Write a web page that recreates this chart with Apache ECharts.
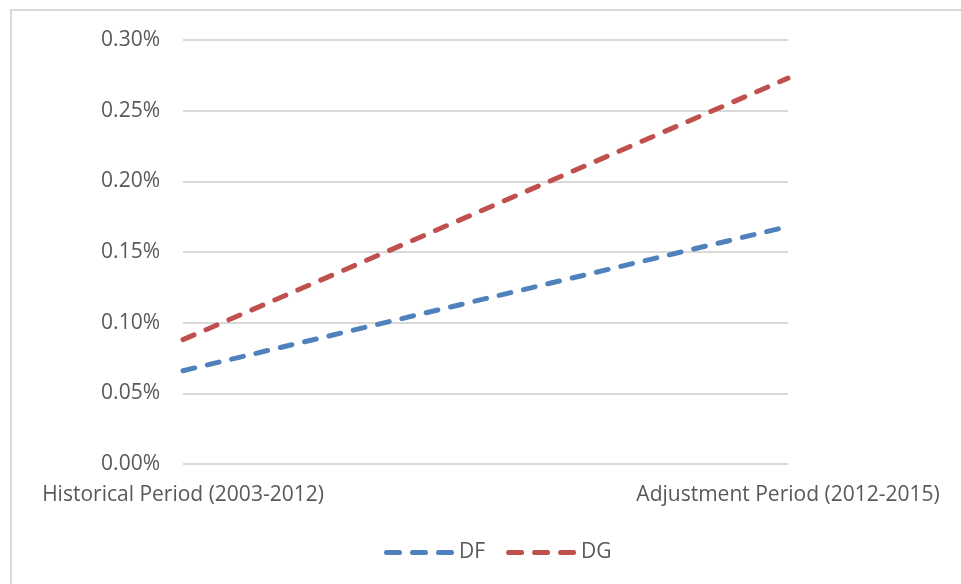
<!DOCTYPE html>
<html>
<head>
<meta charset="utf-8">
<script src="https://cdn.jsdelivr.net/npm/echarts@6/dist/echarts.min.js"></script>
<style>html,body{margin:0;padding:0;background:#fff;}#c{width:961px;height:584px;}</style>
</head>
<body>
<div id="c"></div>
<script>
const categories = ['Historical Period (2003-2012)', 'Adjustment Period (2012-2015)'];
const dfValues = [0.066, 0.168];
const dgValues = [0.088, 0.273];
const yTicks = { min: 0, max: 0.3, interval: 0.05 };

const chart = echarts.init(document.getElementById('c'));
const font = 'Open Sans';
const dashIcon = 'path://M2.5,0h13a2.5,2.5 0 0 1 0,5h-13a2.5,2.5 0 0 1 0,-5z' +
  'M28.5,0h13a2.5,2.5 0 0 1 0,5h-13a2.5,2.5 0 0 1 0,-5z' +
  'M54.5,0h13a2.5,2.5 0 0 1 0,5h-13a2.5,2.5 0 0 1 0,-5z';
chart.setOption({
  animation: false,
  graphic: [{ type: 'rect', shape: { x: 11, y: 10, width: 1200, height: 1200 }, style: { fill: 'none', stroke: '#d9d9d9', lineWidth: 2 }, silent: true }],
  grid: { left: 183, right: 173, top: 40, bottom: 120 },
  xAxis: {
    type: 'category', data: categories, boundaryGap: false,
    axisLine: { show: false }, axisTick: { show: false },
    axisLabel: { color: '#595959', fontSize: 21, fontFamily: font, margin: 21, interval: 0 }
  },
  yAxis: {
    type: 'value', min: yTicks.min, max: yTicks.max, interval: yTicks.interval,
    axisLine: { show: false }, axisTick: { show: false },
    splitLine: { lineStyle: { color: '#d9d9d9', width: 2 } },
    axisLabel: { color: '#595959', fontSize: 21, fontFamily: font, margin: 23, formatter: v => v.toFixed(2) + '%' }
  },
  legend: {
    left: 379, top: 537, itemWidth: 70, itemHeight: 5, itemGap: 21, itemTextGap: 8,
    icon: dashIcon,
    textStyle: { color: '#595959', fontSize: 21, fontFamily: font },
    data: ['DF', 'DG']
  },
  series: [
    { name: 'DF', type: 'line', data: dfValues, symbol: 'none', color: '#4f81bd',
      lineStyle: { color: '#4f81bd', width: 5, type: [12, 13], cap: 'round' } },
    { name: 'DG', type: 'line', data: dgValues, symbol: 'none', color: '#c0504d',
      lineStyle: { color: '#c0504d', width: 5, type: [12, 13], cap: 'round' } }
  ]
});
</script>
</body>
</html>
